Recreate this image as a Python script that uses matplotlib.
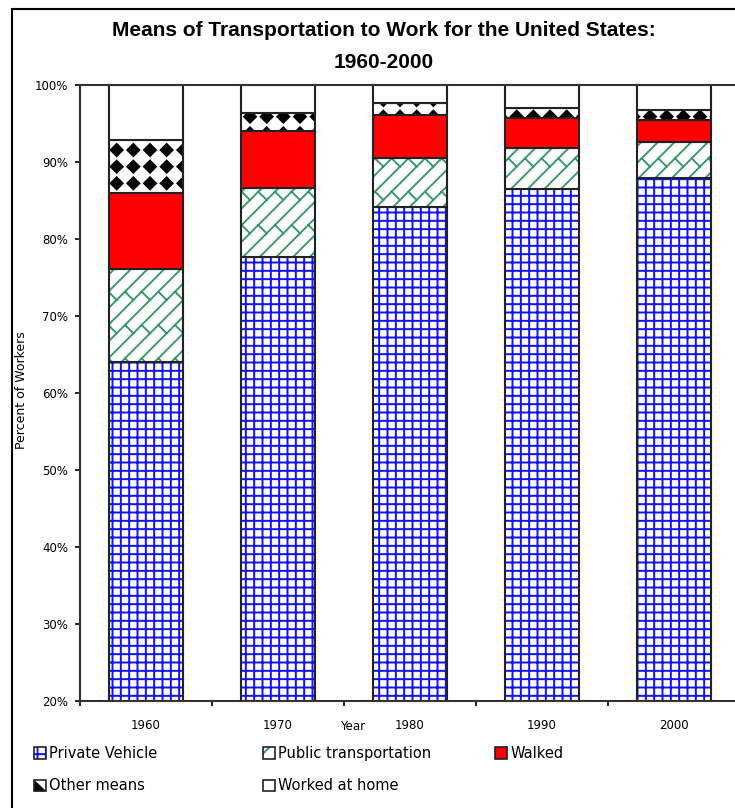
import numpy as np
import matplotlib
matplotlib.use('Agg')
import matplotlib.pyplot as plt
import matplotlib.hatch as mhatch
from matplotlib.path import Path
from matplotlib.patches import Patch, Rectangle, Polygon
from matplotlib.legend_handler import HandlerPatch

plt.rcParams['font.family'] = ['Liberation Sans', 'DejaVu Sans']
plt.rcParams['hatch.linewidth'] = 1.4


# black diamonds on a grid, used for "Other means" (takes over the star hatch '*')
class Diamonds(mhatch.Shapes):
    size = 0.36
    filled = True

    def __init__(self, hatch, density):
        self.num_rows = hatch.count('*') * density
        p = Path.unit_regular_polygon(4)
        self.shape_vertices = p.vertices
        self.shape_codes = p.codes
        n = self.num_rows
        self.num_shapes = (n + 1) ** 2 if n else 0
        self.num_vertices = self.num_shapes * len(self.shape_vertices)

    def set_vertices_and_codes(self, vertices, codes):
        offset = 1.0 / self.num_rows
        sv = self.shape_vertices * offset * self.size
        vparts, cparts = [], []
        for row in range(self.num_rows + 1):
            for col in range(self.num_rows + 1):
                vparts.append(sv + [col * offset, row * offset])
                cparts.append(self.shape_codes)
        np.concatenate(vparts, out=vertices)
        np.concatenate(cparts, out=codes)


# short cross strokes between '//' lines -> brick look (takes over 'O')
class Bricks(mhatch.HatchPatternBase):
    def __init__(self, hatch, density):
        n = hatch.count('O') * density
        self.segs = []
        if n:
            for k in range(-n - 1, n + 1):
                for j in range(-1, n // 2 + 2):
                    t = j * 2 / n + (k % 2) / n
                    c = k / n
                    self.segs.append(((t, t + c), (t - 0.5 / n, t + c + 0.5 / n)))
        self.num_vertices = 2 * len(self.segs)

    def set_vertices_and_codes(self, vertices, codes):
        segs = np.array(self.segs)
        vertices[0::2] = segs[:, 0]
        vertices[1::2] = segs[:, 1]
        codes[0::2] = Path.MOVETO
        codes[1::2] = Path.LINETO


swap = {mhatch.Stars: Diamonds, mhatch.LargeCircles: Bricks}
mhatch._hatch_types = [swap.get(t, t) for t in mhatch._hatch_types]

years = ['1960', '1970', '1980', '1990', '2000']
private_vehicle = [64.0, 77.7, 84.1, 86.5, 87.9]
public_transport = [12.1, 8.9, 6.4, 5.3, 4.7]
walked = [9.9, 7.4, 5.6, 3.9, 2.9]
other_means = [6.9, 2.4, 1.6, 1.3, 1.2]
worked_at_home = [7.1, 3.6, 2.3, 3.0, 3.3]

series = [
    ('Private Vehicle', private_vehicle, dict(facecolor='white', edgecolor='#1010ff', hatch='++')),
    ('Public transportation', public_transport, dict(facecolor='white', edgecolor='#3a9a6a', hatch='//O')),
    ('Walked', walked, dict(facecolor='#ff0000', edgecolor='#ff0000')),
    ('Other means', other_means, dict(facecolor='white', edgecolor='black', hatch='*')),
    ('Worked at home', worked_at_home, dict(facecolor='white', edgecolor='white')),
]

fig = plt.figure(figsize=(7.35, 8.08), dpi=100)
ax = fig.add_axes([80 / 735, 1 - 701 / 808, 660 / 735, 616 / 808])

x = np.arange(len(years))
width = 0.56
bottom = np.zeros(len(years))
handles = []
for name, vals, style in series:
    vals = np.array(vals)
    ax.bar(x, vals, width, bottom=bottom, linewidth=0, **style)
    ax.bar(x, vals, width, bottom=bottom, fill=False, edgecolor='#222222', linewidth=1.5)
    handles.append((Patch(linewidth=0, **style), Patch(fill=False, edgecolor='#222222', linewidth=1.2)))
    bottom += vals

# legend box for "Other means" is a half-black square
tri = Polygon([[0, 0], [0, 1], [1, 0]], facecolor='black', linewidth=0)


def tri_func(legend, orig_handle, xdescent, ydescent, width, height, **kw):
    return Polygon([[-xdescent, -ydescent], [-xdescent, -ydescent + height],
                    [-xdescent + width, -ydescent]])


handles[3] = (Patch(facecolor='white', linewidth=0), tri,
              Patch(fill=False, edgecolor='#222222', linewidth=1.2))

ax.set_xlim(-0.5, len(years) - 0.5)
ax.set_ylim(20, 100)
ax.set_yticks(np.arange(20, 101, 10))
ax.set_yticklabels(['%d%%' % v for v in range(20, 101, 10)], fontsize=8.5, family='DejaVu Sans')
ax.set_xticks(x)
ax.set_xticklabels(years, fontsize=8.5, family='DejaVu Sans')
ax.set_xticks(np.arange(-0.5, len(years), 1), minor=True)
ax.tick_params(axis='x', which='major', length=0, pad=13)
ax.tick_params(axis='x', which='minor', length=3.5, width=1.2, direction='out')
ax.tick_params(axis='y', length=3.5, width=1.2, direction='out', pad=5)
ax.spines['right'].set_visible(False)
for s in ['left', 'bottom', 'top']:
    ax.spines[s].set_linewidth(1.5)
    ax.spines[s].set_color('#333333')

fig.text(22 / 735, 1 - 390 / 808, 'Percent of Workers', rotation=90, fontsize=9,
         ha='center', va='center', family='DejaVu Sans')
fig.text(353 / 735, 1 - 726 / 808, 'Year', fontsize=8.5, ha='center', va='center',
         family='DejaVu Sans')

fig.text(384 / 735, 1 - 31 / 808, 'Means of Transportation to Work for the United States:',
         fontsize=15, fontweight='bold', ha='center', va='center')
fig.text(384 / 735, 1 - 62 / 808, '1960-2000',
         fontsize=15, fontweight='bold', ha='center', va='center')

# legend laid out in three columns like the original
cols = [([0, 3], 34), ([1, 4], 263), ([2], 495)]
for idx, xpix in cols:
    fig.legend([handles[i] for i in idx], [series[i][0] for i in idx],
               loc='upper left', bbox_to_anchor=(xpix / 735, 1 - 746 / 808),
               frameon=False, prop={'family': 'DejaVu Sans', 'size': 10.5},
               handlelength=0.85, handleheight=0.85, handletextpad=0.2,
               labelspacing=1.2, borderpad=0, borderaxespad=0,
               handler_map={tri: HandlerPatch(patch_func=tri_func)})

fig.patches.append(Rectangle((12 / 735, -0.1), 1.2, 1.1 - 9 / 808, transform=fig.transFigure,
                             fill=False, edgecolor='black', linewidth=1.5))

fig.savefig('out.png', dpi=100)
